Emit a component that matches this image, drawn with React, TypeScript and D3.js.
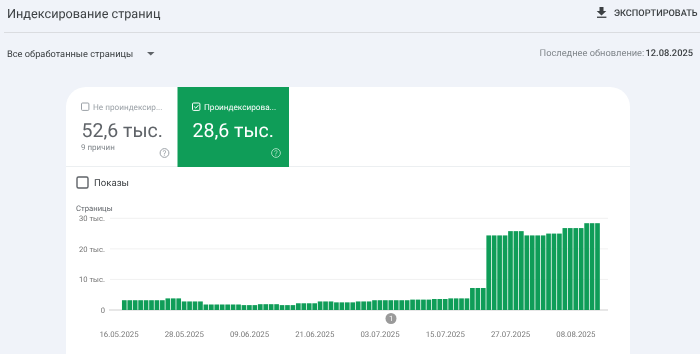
import React from "react";
import * as d3 from "d3";

const title = "Индексирование страниц";
const exportLabel = "ЭКСПОРТИРОВАТЬ";
const filterLabel = "Все обработанные страницы";
const updatedLabel = "Последнее обновление:";
const updatedDate = "12.08.2025";
const tabNotIndexed = { label: "Не проиндексир...", value: "52,6 тыс.", note: "9 причин" };
const tabIndexed = { label: "Проиндексирова...", value: "28,6 тыс." };
const axisTitle = "Страницы";
const yTicks = [0, 10000, 20000, 30000];
const yTickLabels = ["0", "10 тыс.", "20 тыс.", "30 тыс."];
const xTickIndex = [0, 12, 24, 36, 48, 60, 72, 84];
const xTickLabels = ["16.05.2025", "28.05.2025", "09.06.2025", "21.06.2025", "03.07.2025", "15.07.2025", "27.07.2025", "08.08.2025"];
const pages = [
  3200, 3200, 3200, 3200, 3200, 3200, 3200, 3200,
  3800, 3800, 3800,
  2800, 2800, 2800, 2800,
  1800, 1800, 1800, 1800, 1800, 1800, 1800,
  1600, 1600, 1600,
  1900, 1900, 1900, 1900,
  1600, 1600, 1600,
  2200, 2200, 2200, 2200,
  2800, 2800, 2800,
  2500, 2500, 2500, 2500,
  2800, 2800, 2800,
  3200, 3200, 3200, 3200, 3200, 3200, 3200,
  3400, 3400, 3400, 3400,
  3600, 3600, 3600,
  3800, 3800, 3800, 3800,
  7200, 7200, 7200,
  24400, 24400, 24400, 24400,
  25800, 25800, 25800,
  24400, 24400, 24400, 24400,
  25000, 25000, 25000,
  26800, 26800, 26800, 26800,
  28400, 28400, 28400,
];

const GREEN = "#0f9d58";
const font = "Roboto, sans-serif";

export default function App() {
  const x = d3.scaleBand<number>().domain(d3.range(pages.length)).range([121.8, 600]).paddingInner(0.14).paddingOuter(0.03);
  const y = d3.scaleLinear().domain([0, 30000]).range([310, 218.3]);
  return (
    <svg width={700} height={354} viewBox="0 0 700 354" textRendering="geometricPrecision" style={{ position: "absolute", left: 0, top: 0, fontFamily: font, filter: "blur(0.3px)" }}>
      <rect width={700} height={354} fill="#f0f3f9" />
      <text x={7} y={18} fontSize={12.7} fill="#3c4043">{title}</text>
      <line x1={4} x2={700} y1={32.5} y2={32.5} stroke="#dadce0" />
      <path d="M599.5 7h4v4h2.8l-4.8 4.6-4.8-4.6h2.8z" fill="#3c4043" />
      <rect x={597} y={16.6} width={9.4} height={1.3} fill="#3c4043" />
      <text x={614} y={16} fontSize={9.2} fontWeight={500} fill="#3c4043">{exportLabel}</text>

      <text x={7} y={56.5} fontSize={9.28} fill="#3c4043">{filterLabel}</text>
      <path d="M147 52h7.5l-3.75 3.6z" fill="#5f6368" />
      <text x={539.5} y={55.5} fontSize={9.3} fill="#80868b">{updatedLabel}</text>
      <text x={693} y={55.5} fontSize={9.3} textAnchor="end" fontWeight={500} fill="#3c4043">{updatedDate}</text>

      <path d="M66 354V107a20 20 0 0 1 20-20H610a20 20 0 0 1 20 20V354z" fill="#fff" />
      <line x1={66} x2={630} y1={166.5} y2={166.5} stroke="#eceff1" />

      <rect x={81.5} y={103} width={7.4} height={7.4} rx={1} fill="none" stroke="#9aa0a6" />
      <text x={93} y={109.7} fontSize={8.2} fill="#9aa0a6">{tabNotIndexed.label}</text>
      <text x={81.5} y={136.5} fontSize={19.5} fill="#5f6368">{tabNotIndexed.value}</text>
      <text x={81} y={150} fontSize={8} fill="#80868b">{tabNotIndexed.note}</text>
      <circle cx={164.5} cy={153} r={4.4} fill="none" stroke="#9aa0a6" />
      <text x={164.5} y={155.9} fontSize={8} textAnchor="middle" fill="#9aa0a6">?</text>

      <rect x={177.5} y={87} width={111.5} height={80} fill={GREEN} />
      <rect x={192.5} y={103} width={7.4} height={7.4} rx={1} fill="none" stroke="#fff" />
      <path d="M194.2 106.6l1.6 1.6 2.6-3" fill="none" stroke="#fff" strokeWidth={1} />
      <text x={204} y={109.7} fontSize={8.2} fill="#fff">{tabIndexed.label}</text>
      <text x={192.5} y={136.5} fontSize={19.5} fill="#fff">{tabIndexed.value}</text>
      <circle cx={276} cy={153} r={4.4} fill="none" stroke="#9fdcbc" />
      <text x={276} y={155.9} fontSize={8} textAnchor="middle" fill="#9fdcbc">?</text>

      <rect x={77} y={177} width={11} height={11} rx={1.5} fill="none" stroke="#5f6368" strokeWidth={1.4} />
      <text x={94} y={186} fontSize={9.6} fill="#3c4043">Показы</text>

      <text x={76} y={211} fontSize={7.7} fill="#5f6368">{axisTitle}</text>
      {yTicks.map((t, i) => (
        <g key={t}>
          {t > 0 && <line x1={110} x2={608} y1={y(t)} y2={y(t)} stroke="#f1f1f1" />}
          <text x={105} y={y(t) + 3} fontSize={7.6} textAnchor="end" fill="#757575">{yTickLabels[i]}</text>
        </g>
      ))}
      <line x1={109} x2={608} y1={310} y2={310} stroke="#cfcfcf" />
      {pages.map((v, i) => (
        <rect key={i} x={x(i)} y={y(v)} width={x.bandwidth()} height={y(0) - y(v)} fill={GREEN} />
      ))}
      {xTickIndex.map((d, i) => (
        <text key={d} x={x(d)! - 3} y={337} fontSize={7.8} textAnchor="middle" fill="#757575">{xTickLabels[i]}</text>
      ))}
      <circle cx={391} cy={318.5} r={5.5} fill="#9a9a9a" />
      <text x={391} y={321.3} fontSize={7.5} textAnchor="middle" fill="#fff">1</text>
    </svg>
  );
}
